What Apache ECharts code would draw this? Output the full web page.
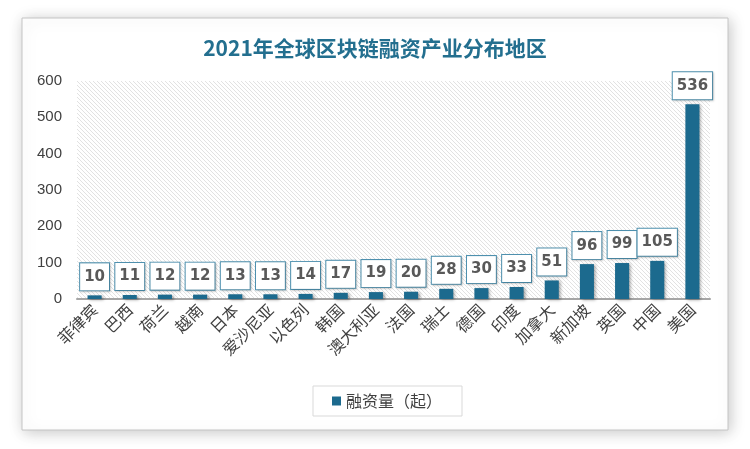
<!DOCTYPE html>
<html>
<head>
<meta charset="utf-8">
<script src="https://cdn.jsdelivr.net/npm/echarts@6/dist/echarts.min.js"></script>
<style>
html,body{margin:0;padding:0;background:#fff;}
#main{width:750px;height:449px;}
</style>
</head>
<body>
<div id="main"></div>
<script>
const titleText = '2021年全球区块链融资产业分布地区';
const seriesName = '融资量（起）';
const categories = ['菲律宾','巴西','荷兰','越南','日本','爱沙尼亚','以色列','韩国','澳大利亚','法国','瑞士','德国','印度','加拿大','新加坡','英国','中国','美国'];
const values = [10,11,12,12,13,13,14,17,19,20,28,30,33,51,96,99,105,536];
const yTicks = [0,100,200,300,400,500,600];

// diagonal hatch pattern for the plot background
const pc = document.createElement('canvas');
pc.width = 4; pc.height = 4;
const ctx = pc.getContext('2d');
ctx.fillStyle = '#ffffff';
ctx.fillRect(0,0,4,4);
ctx.strokeStyle = '#e2e2e2';
ctx.lineWidth = 1;
ctx.beginPath();
ctx.moveTo(-1,-1); ctx.lineTo(5,5);
ctx.moveTo(-1,3); ctx.lineTo(1,5);
ctx.moveTo(3,-1); ctx.lineTo(5,1);
ctx.stroke();

const chart = echarts.init(document.getElementById('main'), null, {renderer:'canvas'});
chart.setOption({
  backgroundColor: '#ffffff',
  animation: false,
  graphic: [{
    type: 'rect',
    z: -100,
    shape: {x: 22, y: 18, width: 706, height: 412},
    style: {fill: '#ffffff', stroke: '#c4c4c4', lineWidth: 1,
            shadowBlur: 14, shadowColor: 'rgba(0,0,0,0.22)', shadowOffsetX: 2, shadowOffsetY: 2}
  }],
  title: {
    text: titleText,
    left: 'center',
    top: 33,
    textStyle: {color: '#236f8f', fontSize: 21, fontWeight: 'bold', fontFamily: 'Noto Sans CJK SC'}
  },
  legend: {
    left: 313,
    top: 386,
    data: [seriesName],
    icon: 'rect',
    itemWidth: 9,
    itemHeight: 9,
    itemGap: 5,
    padding: [7, 20, 7, 19],
    borderColor: '#d9d9d9',
    borderWidth: 1,
    textStyle: {color: '#404040', fontSize: 16, fontFamily: 'Noto Sans CJK SC'}
  },
  grid: {
    left: 77, right: 40, top: 81, bottom: 150,
    show: true,
    borderWidth: 0,
    backgroundColor: {image: pc, repeat: 'repeat'}
  },
  xAxis: {
    type: 'category',
    data: categories,
    axisTick: {show: false},
    axisLine: {lineStyle: {color: '#a6a6a6', width: 2}},
    axisLabel: {rotate: 45, interval: 0, margin: 8, color: '#404040', fontSize: 16, fontFamily: 'Noto Sans CJK SC'}
  },
  yAxis: {
    type: 'value',
    min: 0, max: 600, interval: 100,
    axisLine: {show: false},
    axisTick: {show: false},
    splitLine: {show: false},
    axisLabel: {margin: 15, color: '#404040', fontSize: 15, fontFamily: 'Liberation Sans',
      formatter: function(v){ return yTicks.indexOf(v) >= 0 ? String(v) : ''; }}
  },
  series: [{
    name: seriesName,
    type: 'bar',
    data: values,
    barWidth: '40%',
    itemStyle: {color: '#1c6a8e', shadowColor: 'rgba(0,0,0,0.35)', shadowBlur: 3, shadowOffsetX: 2, shadowOffsetY: 1},
    label: {
      show: true,
      position: 'top',
      distance: 5,
      color: '#595959',
      fontSize: 15,
      fontWeight: 'bold',
      fontFamily: 'DejaVu Sans',
      lineHeight: 19,
      backgroundColor: '#ffffff',
      borderColor: '#4f92b0',
      borderWidth: 1,
      padding: [4, 4, 4, 4],
      shadowColor: 'rgba(0,0,0,0.15)',
      shadowBlur: 2,
      shadowOffsetX: 1,
      shadowOffsetY: 1
    }
  }]
});
</script>
</body>
</html>
